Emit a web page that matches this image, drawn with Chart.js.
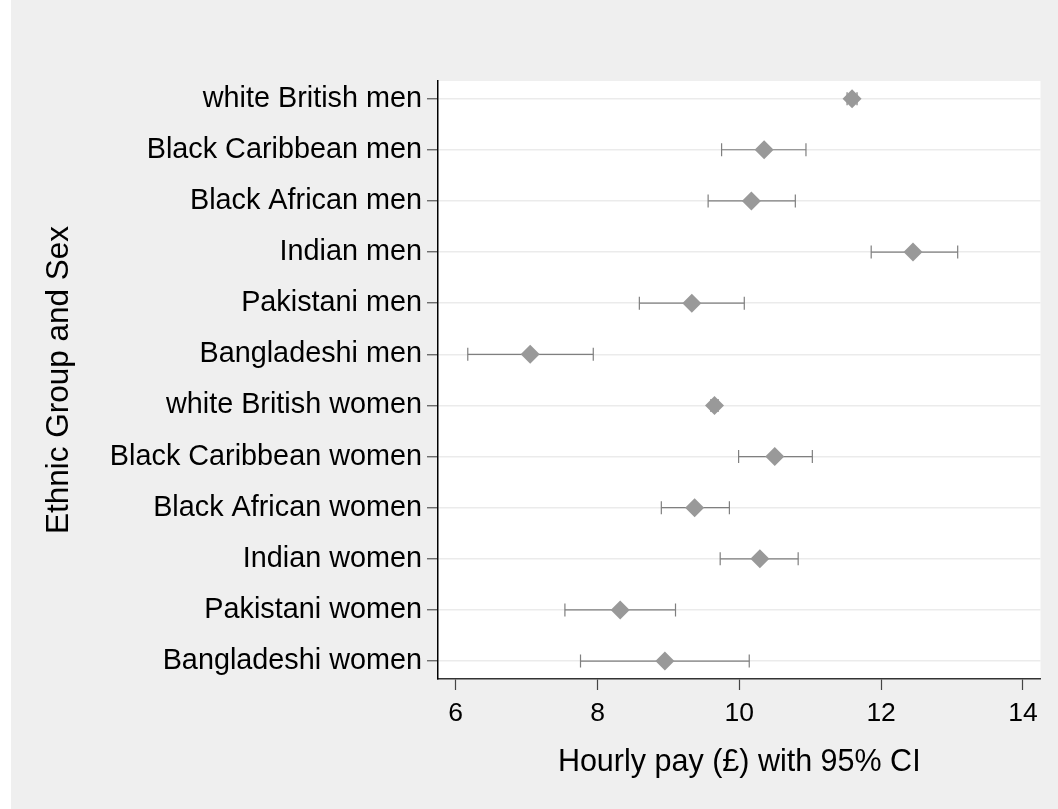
<!DOCTYPE html>
<html>
<head>
<meta charset="utf-8">
<script src="https://cdn.jsdelivr.net/npm/chart.js@4.4.1/dist/chart.umd.min.js"></script>
<style>
  html, body { margin: 0; padding: 0; background: #efefef; }
  #wrap { width: 1058px; height: 809px; }
  canvas { display: block; }
</style>
</head>
<body>
<div id="wrap"><canvas id="chart" width="1058" height="809"></canvas></div>
<script>
// Mean hourly pay by ethnic group and sex, with 95% confidence intervals
const groups = [
  'white British men',
  'Black Caribbean men',
  'Black African men',
  'Indian men',
  'Pakistani men',
  'Bangladeshi men',
  'white British women',
  'Black Caribbean women',
  'Black African women',
  'Indian women',
  'Pakistani women',
  'Bangladeshi women'
];
const meanPay = [11.59, 10.35, 10.17, 12.45, 9.33, 7.05, 9.65, 10.50, 9.37, 10.29, 8.32, 8.95];
const ciLow   = [11.52, 9.75, 9.56, 11.86, 8.59, 6.17, 9.60, 9.99, 8.90, 9.73, 7.54, 7.76];
const ciHigh  = [11.66, 10.94, 10.79, 13.08, 10.07, 7.94, 9.70, 11.03, 9.86, 10.83, 9.10, 10.14];
const xTickValues = [6, 8, 10, 12, 14];

const FONT = '"Liberation Sans", Arial, Helvetica, sans-serif';

// Diamonds at the mean; interval lines broken between groups by null points
const meanPoints = meanPay.map((v, i) => ({ x: v, y: i }));
const ciPoints = [];
groups.forEach((g, i) => {
  ciPoints.push({ x: ciLow[i], y: i }, { x: ciHigh[i], y: i }, { x: null, y: null });
});

// Grey page, thin white strip on the left, white plot region
const backdrop = {
  id: 'backdrop',
  beforeDraw(chart) {
    const { ctx, chartArea: a, width, height } = chart;
    ctx.save();
    ctx.fillStyle = '#efefef';
    ctx.fillRect(0, 0, width, height);
    ctx.fillStyle = '#ffffff';
    ctx.fillRect(0, 0, 11, height);
    ctx.fillRect(a.left, a.top, a.right - a.left, a.bottom - a.top);
    ctx.restore();
  }
};

new Chart(document.getElementById('chart'), {
  type: 'scatter',
  data: {
    datasets: [
      {
        label: 'Mean',
        data: meanPoints,
        pointStyle: 'rectRot',
        pointRadius: 9.5,
        pointBackgroundColor: '#999999',
        pointBorderWidth: 0,
        showLine: false
      },
      {
        label: '95% CI',
        data: ciPoints,
        showLine: true,
        spanGaps: false,
        borderColor: '#7f7f7f',
        borderWidth: 1.2,
        pointStyle: 'line',
        pointRotation: 90,
        pointRadius: 6.5,
        pointBorderColor: '#7f7f7f',
        pointBorderWidth: 1.2
      }
    ]
  },
  options: {
    responsive: false,
    animation: false,
    events: [],
    layout: { padding: { left: 40, top: 81, right: 17.5, bottom: 28 } },
    plugins: { legend: { display: false }, tooltip: { enabled: false } },
    scales: {
      x: {
        type: 'linear',
        min: 5.75,
        max: 14.248,
        afterBuildTicks: s => { s.ticks = xTickValues.map(v => ({ value: v })); },
        afterFit: s => { s.height = 102; },
        ticks: { font: { family: FONT, size: 26.5 }, color: '#000', padding: 8, maxRotation: 0 },
        grid: { drawOnChartArea: false, drawTicks: true, tickLength: 11, tickColor: '#444', tickWidth: 1.2 },
        border: { display: true, color: '#333', width: 1.5 },
        title: {
          display: true,
          text: 'Hourly pay (£) with 95% CI',
          font: { family: FONT, size: 30.5 },
          color: '#000',
          padding: 0
        }
      },
      y: {
        type: 'linear',
        reverse: true,
        min: -0.345,
        max: 11.35,
        afterBuildTicks: s => { s.ticks = groups.map((g, i) => ({ value: i })); },
        afterFit: s => { s.width = 398; },
        ticks: {
          autoSkip: false,
          callback: v => groups[v],
          font: { family: FONT, size: 28.8 },
          color: '#000',
          padding: 5
        },
        grid: { color: '#ebebeb', lineWidth: 1.5, drawTicks: true, tickLength: 11, tickColor: '#555', tickWidth: 1.2 },
        border: { display: true, color: '#000', width: 1.5 },
        title: {
          display: true,
          text: 'Ethnic Group and Sex',
          font: { family: FONT, size: 31.5 },
          color: '#000',
          padding: 0
        }
      }
    }
  },
  plugins: [backdrop]
});
</script>
</body>
</html>
